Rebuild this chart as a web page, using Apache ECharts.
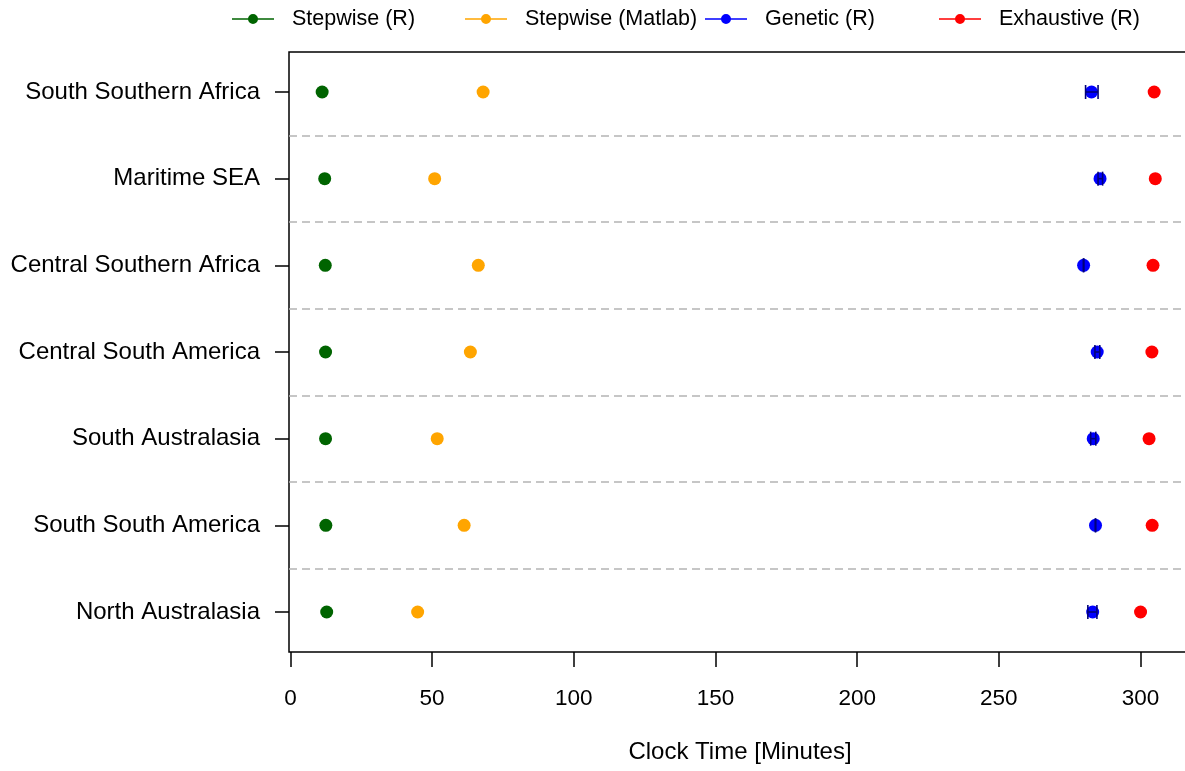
<!DOCTYPE html>
<html>
<head>
<meta charset="utf-8">
<script src="https://cdn.jsdelivr.net/npm/echarts@6/dist/echarts.min.js"></script>
<style>
  html, body { margin: 0; padding: 0; background: #ffffff; overflow: hidden; }
  #chart { width: 1200px; height: 771px; }
</style>
</head>
<body>
<div id="chart"></div>
<script>
// Regions, listed bottom to top
const regions = [
  'North Australasia',
  'South South America',
  'South Australasia',
  'Central South America',
  'Central Southern Africa',
  'Maritime SEA',
  'South Southern Africa'
];

// Clock time in minutes for each method, same order as regions
const stepwiseR      = [12.8, 12.5, 12.4, 12.4, 12.3, 12.1, 11.2];
const stepwiseMatlab = [44.9, 61.3, 51.8, 63.5, 66.3, 50.9, 68.0];
const geneticR       = [283.1, 284.1, 283.3, 284.7, 279.9, 285.7, 282.7];
const geneticLow     = [281.4, 284.0, 282.4, 283.9, 279.8, 285.0, 280.6];
const geneticHigh    = [284.6, 284.2, 284.2, 285.6, 280.0, 286.6, 285.0];
const exhaustiveR    = [300.0, 304.1, 303.0, 304.0, 304.4, 305.2, 304.8];

const xTicks = [0, 50, 100, 150, 200, 250, 300];
const separators = [0.5, 1.5, 2.5, 3.5, 4.5, 5.5];

const FONT = 'Liberation Sans, Arial, Helvetica, sans-serif';
const seriesNames = ['Stepwise (R)', 'Stepwise (Matlab)', 'Genetic (R)', 'Exhaustive (R)'];
const colors = ['#006400', '#FFA500', '#0000FF', '#FF0000'];
const legendLeft = [227, 460, 700, 934];

// line with a dot in the middle, as used in the key
const keyIcon = 'path://M0,4.8 L42,4.8 L42,6.2 L0,6.2 Z M16,5.5 A5,5 0 1 1 26,5.5 A5,5 0 1 1 16,5.5 Z';

const toPoints = vals => vals.map((v, i) => [v, i]);

const chart = echarts.init(document.getElementById('chart'), null, { renderer: 'canvas' });

const option = {
  animation: false,
  backgroundColor: '#ffffff',
  textStyle: { fontFamily: FONT },
  legend: seriesNames.map((name, k) => ({
    data: [name],
    left: legendLeft[k],
    top: 3,
    icon: keyIcon,
    itemWidth: 42,
    itemHeight: 11,
    selectedMode: false,
    textStyle: { fontFamily: FONT, fontSize: 21.5, color: '#000', padding: [0, 0, 0, 13] }
  })),
  grid: {
    left: 289, top: 52, width: 902, bottom: 119,
    show: true, borderColor: '#000', borderWidth: 1.5,
    containLabel: false,
    outerBoundsMode: 'none'
  },
  xAxis: {
    type: 'value',
    min: -0.5,
    max: 317.8,
    name: 'Clock Time [Minutes]',
    nameLocation: 'middle',
    nameGap: 88,
    nameTextStyle: { fontFamily: FONT, fontSize: 24, color: '#000' },
    axisLine: { show: false, onZero: false },
    splitLine: { show: false },
    axisTick: {
      show: true, inside: false, length: 15,
      customValues: xTicks,
      lineStyle: { color: '#000', width: 1.5 }
    },
    axisLabel: {
      customValues: xTicks,
      margin: 35,
      fontFamily: FONT, fontSize: 22.5, color: '#000'
    }
  },
  yAxis: {
    type: 'value',
    min: -0.4615,
    max: 6.4615,
    axisLine: { show: false, onZero: false },
    splitLine: { show: false },
    axisTick: {
      show: true, inside: false, length: 14,
      customValues: regions.map((_, i) => i),
      lineStyle: { color: '#000', width: 1.5 }
    },
    axisLabel: {
      customValues: regions.map((_, i) => i),
      margin: 29,
      fontFamily: FONT, fontSize: 24, color: '#000',
      formatter: v => regions[Math.round(v)]
    }
  },
  series: [
    {
      name: seriesNames[0], type: 'scatter', symbolSize: 13,
      itemStyle: { color: colors[0], opacity: 1 },
      data: toPoints(stepwiseR),
      z: 3,
      markLine: {
        silent: true,
        symbol: ['none', 'none'],
        label: { show: false },
        lineStyle: { color: '#b4b4b4', width: 1.5, type: [8, 5] },
        data: separators.map(y => ({ yAxis: y })),
        z: 1
      }
    },
    {
      name: seriesNames[1], type: 'scatter', symbolSize: 13,
      itemStyle: { color: colors[1], opacity: 1 },
      data: toPoints(stepwiseMatlab), z: 3
    },
    {
      name: seriesNames[2], type: 'scatter', symbolSize: 13,
      itemStyle: { color: colors[2], opacity: 1 },
      data: toPoints(geneticR), z: 3
    },
    {
      // spread of the genetic runs: bar with end caps
      name: 'Genetic spread', type: 'custom',
      data: regions.map((_, i) => [i, geneticLow[i], geneticHigh[i]]),
      encode: { x: [1, 2], y: 0 },
      z: 4,
      renderItem: (params, api) => {
        const y = api.value(0);
        const a = api.coord([api.value(1), y]);
        const b = api.coord([api.value(2), y]);
        const h = 7;
        const style = { stroke: '#00007A', lineWidth: 1.6 };
        return {
          type: 'group',
          children: [
            { type: 'line', shape: { x1: a[0], y1: a[1], x2: b[0], y2: b[1] }, style },
            { type: 'line', shape: { x1: a[0], y1: a[1] - h, x2: a[0], y2: a[1] + h }, style },
            { type: 'line', shape: { x1: b[0], y1: b[1] - h, x2: b[0], y2: b[1] + h }, style }
          ]
        };
      }
    },
    {
      name: seriesNames[3], type: 'scatter', symbolSize: 13,
      itemStyle: { color: colors[3], opacity: 1 },
      data: toPoints(exhaustiveR), z: 3
    }
  ]
};

chart.setOption(option);
</script>
</body>
</html>
